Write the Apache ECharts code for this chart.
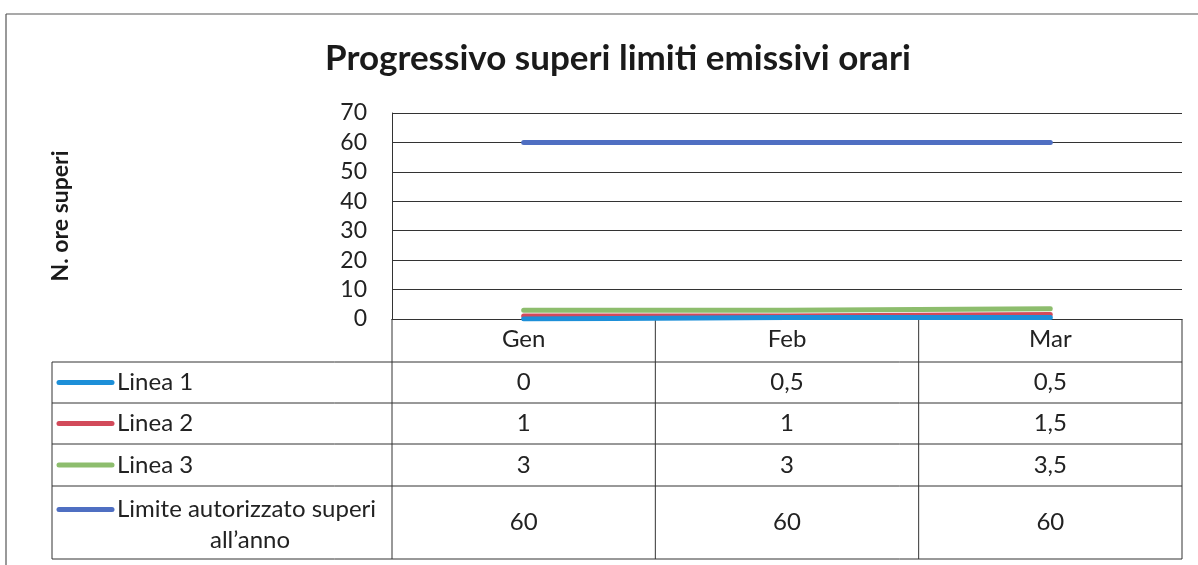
<!DOCTYPE html>
<html><head><meta charset="utf-8">
<script src="https://cdn.jsdelivr.net/npm/echarts@6/dist/echarts.min.js"></script>
<style>html,body{margin:0;padding:0;background:#fff}#c{width:1198px;height:565px}</style>
</head><body><div id="c"></div>
<script>
const titleText = 'Progressivo superi limiti emissivi orari';
const yAxisTitle = 'N. ore superi';
const categories = ['Gen', 'Feb', 'Mar'];
const linea1 = [0, 0.5, 0.5];
const linea2 = [1, 1, 1.5];
const linea3 = [3, 3, 3.5];
const limite = [60, 60, 60];
const seriesNames = ['Linea 1', 'Linea 2', 'Linea 3', 'Limite autorizzato superi\nall’anno'];
const seriesColors = ['#1d8fd8', '#d24a5a', '#8dbd6d', '#4f6fc2'];
const yMin = 0, yMax = 70, yStep = 10;

const FONT = 'Lato';
const chart = echarts.init(document.getElementById('c'), null, {renderer: 'canvas'});
const seriesData = [linea1, linea2, linea3, limite];

chart.setOption({
  animation: false,
  backgroundColor: '#fff',
  title: {
    text: titleText, left: 320, top: 36,
    textStyle: {fontFamily: FONT, fontSize: 35, fontWeight: 'bold', color: '#1a1a1a'}
  },
  grid: {left: 392, right: 16, top: 113, bottom: 246},
  xAxis: {
    type: 'category', data: categories, boundaryGap: true,
    axisLine: {show: true, lineStyle: {color: '#333', width: 1}},
    axisTick: {show: false},
    axisLabel: {fontFamily: FONT, fontSize: 24, color: '#222', margin: 8}
  },
  yAxis: {
    type: 'value', min: yMin, max: yMax, interval: yStep,
    name: yAxisTitle, nameLocation: 'middle', nameGap: 320, nameRotate: 90,
    nameTextStyle: {fontFamily: FONT, fontSize: 23, fontWeight: 'bold', color: '#1a1a1a'},
    axisLine: {show: true, lineStyle: {color: '#333', width: 1}},
    axisTick: {show: false},
    axisLabel: {fontFamily: FONT, fontSize: 23, color: '#222', margin: 25},
    splitLine: {show: true, lineStyle: {color: '#333', width: 1}}
  },
  series: seriesData.map((d, i) => ({
    name: seriesNames[i], type: 'line', data: d, showSymbol: false, symbol: 'none',
    lineStyle: {color: seriesColors[i], width: 5, cap: 'round'},
    itemStyle: {color: seriesColors[i]}, z: 2 + (i === 3 ? 0 : (3 - i))
  }))
});

// Data table under the chart (built from the same arrays, positioned from the category axis)
const xs = categories.map((c, i) => chart.convertToPixel({xAxisIndex: 0}, i));
const colW = xs.length > 1 ? xs[1] - xs[0] : 200;
const colEdges = [xs[0] - colW / 2].concat(xs.map(x => x + colW / 2));
const axisY = chart.convertToPixel({yAxisIndex: 0}, 0);
const tableLeft = 52;
const rowEdges = [axisY, 362, 403, 444, 486, 559];
const lineC = '#333';
const els = [];
function hline(x1, x2, y) { els.push({type: 'line', shape: {x1, y1: y, x2, y2: y}, style: {stroke: lineC, lineWidth: 1}, silent: true}); }
function vline(x, y1, y2) { els.push({type: 'line', shape: {x1: x, y1, x2: x, y2}, style: {stroke: lineC, lineWidth: 1}, silent: true}); }
for (let r = 1; r < rowEdges.length; r++) hline(tableLeft, colEdges[colEdges.length - 1], rowEdges[r]);
vline(tableLeft, rowEdges[1], rowEdges[rowEdges.length - 1]);
colEdges.forEach(x => vline(x, axisY, rowEdges[rowEdges.length - 1]));
const fmt = v => String(v).replace('.', ',');
const TXT = '24px ' + FONT;
seriesData.forEach((d, i) => {
  const yc = (rowEdges[i + 1] + rowEdges[i + 2]) / 2;
  d.forEach((v, j) => {
    els.push({type: 'text', x: xs[j], y: yc, style: {text: fmt(v), fill: '#222', font: TXT, textAlign: 'center', textVerticalAlign: 'middle'}, silent: true});
  });
  const parts = seriesNames[i].split('\n');
  const keyY = parts.length > 1 ? yc - 13 : yc;
  els.push({type: 'line', shape: {x1: 59, y1: keyY, x2: 112, y2: keyY}, style: {stroke: seriesColors[i], lineWidth: 5, lineCap: 'round'}, silent: true});
  els.push({type: 'text', x: 117, y: keyY, style: {text: parts[0], fill: '#222', font: TXT, textAlign: 'left', textVerticalAlign: 'middle'}, silent: true});
  if (parts.length > 1) {
    els.push({type: 'text', x: 250, y: yc + 18, style: {text: parts[1], fill: '#222', font: TXT, textAlign: 'center', textVerticalAlign: 'middle'}, silent: true});
  }
});
// outer frame
els.push({type: 'line', shape: {x1: 6, y1: 14, x2: 1198, y2: 14}, style: {stroke: '#555', lineWidth: 1.2}, silent: true});
els.push({type: 'line', shape: {x1: 6, y1: 14, x2: 6, y2: 565}, style: {stroke: '#555', lineWidth: 1.2}, silent: true});
chart.setOption({graphic: {elements: els}});
</script></body></html>
